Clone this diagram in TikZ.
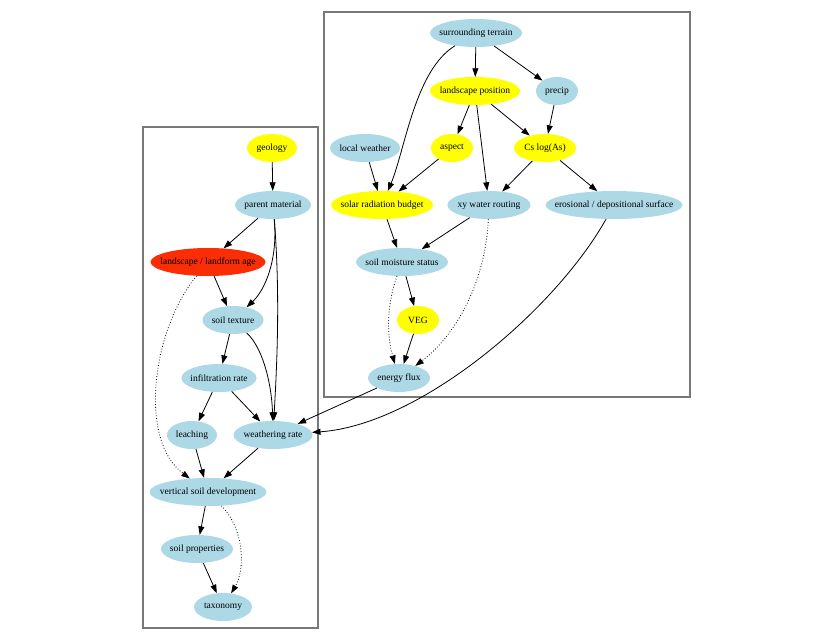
\documentclass[tikz,border=0pt]{standalone}
\usepackage{fontspec}
\setmainfont{Liberation Serif}
\usepackage{xcolor}
\definecolor{SoilBlue}{RGB}{173,216,230}
\definecolor{DriverYellow}{RGB}{255,255,0}
\definecolor{AgeRed}{RGB}{250,45,5}
\definecolor{PanelGray}{RGB}{120,120,120}
\usepackage{tikz}
\usetikzlibrary{
    arrows.meta,
    positioning,
    shapes.geometric
}
\newcommand{\lbl}[1]{\makebox[0pt]{#1}}

\begin{document}
\begin{tikzpicture}[
    x=1pt,
    y=-1pt,
    font=\fontsize{9.5}{11}\selectfont,
    var/.style={
        ellipse,
        fill=SoilBlue,
        minimum height=28pt,
        inner sep=0pt
    },
    driver/.style={
        var,
        fill=DriverYellow
    },
    age/.style={
        var,
        fill=AgeRed
    },
    panel/.style={
        draw=PanelGray,
        line width=1.2pt
    },
    arrow/.style={
        -{Triangle[length=8.5pt,width=6pt]},
        line width=0.8pt,
        color=black
    },
    link/.style={
        arrow,
        dotted
    }
]
%
\useasboundingbox (0,0) rectangle (830,640);
%
\draw[panel] (324,12) rectangle (690,397);
\draw[panel] (143,127) rectangle (318,628);
%
% right panel
\node[var, minimum width=92pt] (terrain) at (476,33) {\lbl{surrounding terrain}};
\node[driver, minimum width=90pt] (lpos) at (475,91) {\lbl{landscape position}};
\node[var, minimum width=42pt] (precip) at (557,91) {\lbl{precip}};
\node[var, minimum width=70pt] (weather) at (365,148) {\lbl{local weather}};
\node[driver, minimum width=42pt] (aspect) at (452,148) {\lbl{aspect}};
\node[driver, minimum width=62pt] (cslog) at (545,148) {\lbl{Cs log(As)}};
\node[driver, minimum width=102pt] (solar) at (382,205) {\lbl{solar radiation budget}};
\node[var, minimum width=83pt] (xyflow) at (489,205) {\lbl{xy water routing}};
\node[var, minimum width=137pt] (erosion) at (614,205) {\lbl{erosional / depositional surface}};
\node[var, minimum width=92pt] (moisture) at (402,262) {\lbl{soil moisture status}};
\node[driver, minimum width=42pt] (veg) at (418,320) {\lbl{VEG}};
\node[var, minimum width=62pt] (flux) at (399,378) {\lbl{energy flux}};
%
% left panel
\node[driver, minimum width=50pt] (geology) at (272,148) {\lbl{geology}};
\node[var, minimum width=76pt] (parent) at (273,205) {\lbl{parent material}};
\node[age, minimum width=115pt] (landage) at (208,262) {\lbl{landscape / landform age}};
\node[var, minimum width=61pt] (texture) at (233,320) {\lbl{soil texture}};
\node[var, minimum width=75pt] (infil) at (219,378) {\lbl{infiltration rate}};
\node[var, minimum width=50pt] (leach) at (192,435) {\lbl{leaching}};
\node[var, minimum width=79pt] (wrate) at (273,435) {\lbl{weathering rate}};
\node[var, minimum width=117pt] (vertical) at (208,492) {\lbl{vertical soil development}};
\node[var, minimum width=72pt] (props) at (197,549) {\lbl{soil properties}};
\node[var, minimum width=58pt] (taxon) at (223,607) {\lbl{taxonomy}};
%
\draw[arrow] (terrain) -- (lpos);
\draw[arrow] (terrain) -- (precip);
\draw[arrow] (terrain) .. controls (415,70) and (405,150) .. (solar);
\draw[arrow] (lpos) -- (aspect);
\draw[arrow] (lpos) -- (xyflow);
\draw[arrow] (lpos) -- (cslog);
\draw[arrow] (precip) -- (cslog);
\draw[arrow] (weather) -- (solar);
\draw[arrow] (aspect) -- (solar);
\draw[arrow] (cslog) -- (xyflow);
\draw[arrow] (cslog) -- (erosion);
\draw[arrow] (solar) -- (moisture);
\draw[arrow] (xyflow) -- (moisture);
\draw[link] (xyflow) .. controls (485,290) and (450,340) .. (flux);
\draw[arrow] (moisture) -- (veg);
\draw[link] (moisture) .. controls (385,310) and (388,340) .. (flux);
\draw[arrow] (veg) -- (flux);
\draw[arrow] (flux) -- (wrate);
\draw[arrow] (erosion) .. controls (555,310) and (420,425) .. (wrate);
%
\draw[arrow] (geology) -- (parent);
\draw[arrow] (parent) -- (landage);
\draw[arrow] (parent) .. controls (278,260) and (265,290) .. (texture);
\draw[arrow] (parent) .. controls (281,300) and (276,380) .. (wrate);
\draw[arrow] (landage) -- (texture);
\draw[link] (landage) .. controls (152,330) and (138,440) .. (vertical);
\draw[arrow] (texture) -- (infil);
\draw[arrow] (texture) .. controls (265,350) and (272,390) .. (wrate);
\draw[arrow] (infil) -- (leach);
\draw[arrow] (infil) -- (wrate);
\draw[arrow] (leach) -- (vertical);
\draw[arrow] (wrate) -- (vertical);
\draw[arrow] (vertical) -- (props);
\draw[link] (vertical) .. controls (245,530) and (245,570) .. (taxon);
\draw[arrow] (props) -- (taxon);
%
\end{tikzpicture}
\end{document}
